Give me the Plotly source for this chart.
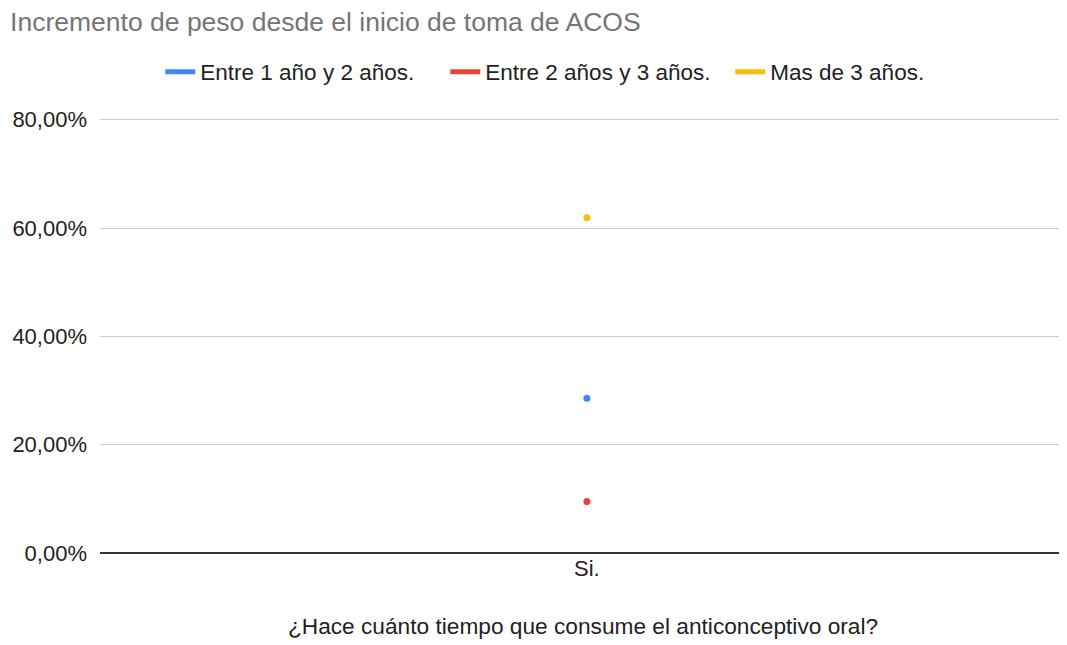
import plotly.graph_objects as go

# ============================== Data ===================================== #
categories = ['Si.']
series_names = ['Entre 1 año y 2 años.', 'Entre 2 años y 3 años.', 'Mas de 3 años.']
series_values = [[0.2857], [0.0952], [0.6190]]
series_colors = ['#4285F4', '#EA4335', '#FBBC04']
y_ticks = [0, 0.2, 0.4, 0.6, 0.8]

# ============================== Figure =================================== #
fig = go.Figure()

for name, vals, col in zip(series_names, series_values, series_colors):
    # points on the chart
    fig.add_trace(go.Scatter(x=categories, y=vals, mode='markers', name=name,
                             marker={'color': col, 'size': 7}, showlegend=False))
    # legend-only entry with a short thick line
    fig.add_trace(go.Scatter(x=[None], y=[None], mode='lines', name=name,
                             line={'color': col, 'width': 5}))

# -- page body adds an 8px offset, so the figure is sized 8px smaller -- #
fig.update_layout(
    width=1059, height=637,
    paper_bgcolor='white', plot_bgcolor='white',
    font={'family': 'Liberation Sans, Arial, sans-serif', 'size': 22, 'color': '#222222'},
    separators=',.',
    title={'text': 'Incremento de peso desde el inicio de toma de ACOS',
           'x': 0.002, 'xanchor': 'left', 'y': 0.978, 'yanchor': 'middle',
           'font': {'size': 26.5, 'color': '#757575'}},
    legend={'orientation': 'h', 'xref': 'container', 'x': 0.5475, 'xanchor': 'center',
            'yref': 'container', 'y': 0.8995, 'yanchor': 'middle',
            'font': {'size': 22.5, 'color': '#222222'}, 'itemwidth': 30,
            'entrywidth': 240, 'entrywidthmode': 'pixels'},
    margin={'l': 92, 'r': 1, 't': 109, 'b': 92, 'autoexpand': False},
)

fig.update_yaxes(range=[0, 0.805], tickvals=y_ticks, tickformat='.2%',
                 showgrid=True, gridcolor='#CCCCCC', gridwidth=1,
                 zeroline=True, zerolinecolor='#333333', zerolinewidth=1.5,
                 showline=False, ticks='', ticklabelstandoff=12, automargin=False,
                 tickfont={'size': 22, 'color': '#222222'})
fig.update_xaxes(type='category', range=[-0.5, 0.492],
                 showgrid=False, showline=False, ticks='',
                 automargin=False, tickfont={'size': 22, 'color': '#222222'},
                 title={'text': '¿Hace cuánto tiempo que consume el anticonceptivo oral?',
                        'font': {'size': 22.7, 'color': '#222222'}, 'standoff': 38})

fig.write_html('out.html')
